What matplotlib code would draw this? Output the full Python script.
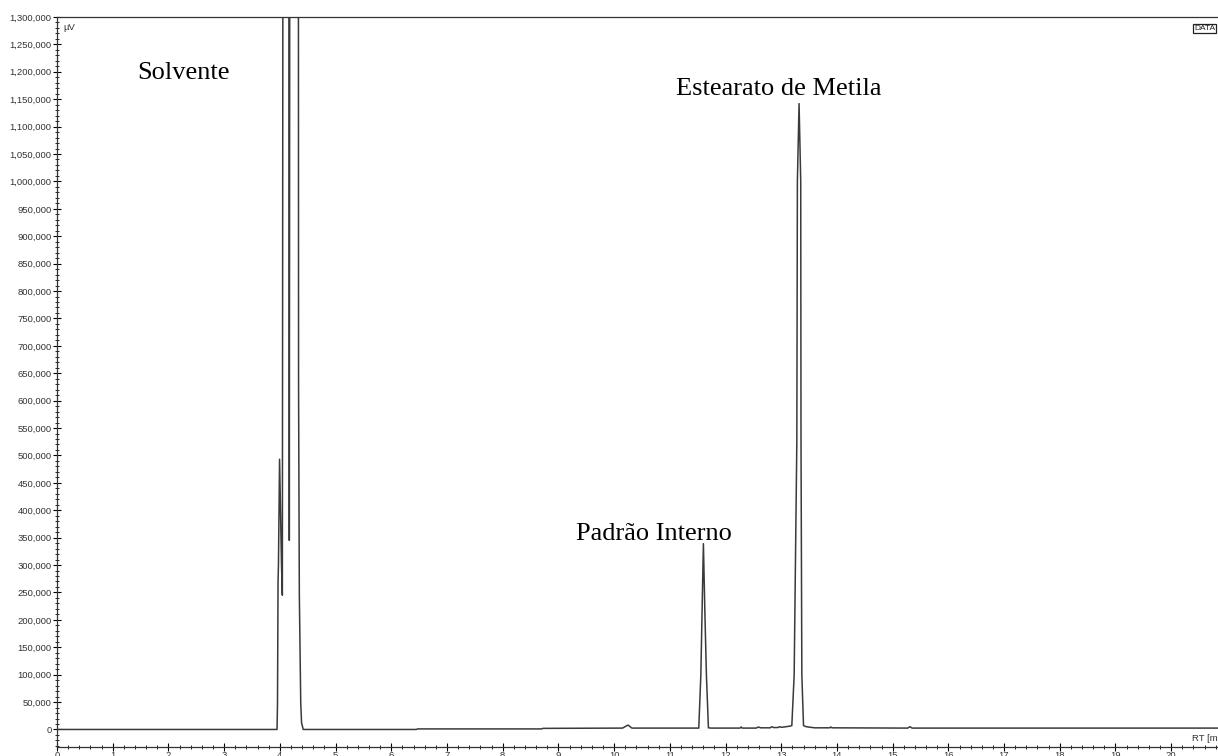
import matplotlib
matplotlib.use("Agg")
import matplotlib.pyplot as plt
from matplotlib.ticker import MultipleLocator, FuncFormatter

# cromatograma - vertices lidos do registro (RT em min, sinal em uV)
# valores acima de 1.300.000 ficam fora da escala (pico do solvente saturado)
rt_min = [
    0.00, 3.950, 3.958, 3.968, 3.975, 3.995, 4.030, 4.045, 4.065, 4.110, 4.155,
    4.170, 4.185, 4.260, 4.330, 4.336, 4.350, 4.375, 4.390, 4.420,
    6.45, 6.47, 8.70, 8.72, 10.15, 10.25, 10.32,
    11.52, 11.557, 11.580, 11.603, 11.628, 11.657, 11.693,
    11.75, 12.26, 12.28, 12.30, 12.55, 12.59, 12.63, 12.80, 12.83, 12.86,
    12.94, 12.97, 13.00, 13.05, 13.15,
    13.19, 13.232, 13.280, 13.290, 13.320, 13.350, 13.355, 13.370, 13.400,
    13.45, 13.60, 13.87, 13.89, 13.91, 15.27, 15.31, 15.35, 20.90,
]
sinal_uv = [
    0, 0, 49000, 270000, 300000, 493000, 300000, 245000, 2600000, 3100000, 2600000,
    345000, 2400000, 3300000, 2500000, 630000, 245000, 49000, 12000, 0,
    0, 1000, 1000, 2000, 2500, 8000, 2500,
    2500, 99000, 220000, 339000, 220000, 99000, 3000,
    2500, 2500, 4500, 2500, 2500, 4500, 3000, 3000, 5000, 3500,
    3500, 5000, 4000, 4500, 6000,
    7000, 99000, 525000, 1000000, 1142000, 1000000, 525000, 99000, 7000,
    5000, 3000, 3000, 4500, 3000, 2500, 5000, 2500, 2500,
]

# rotulos dos picos: (texto, RT, altura da linha de base do texto)
rotulos = ["Solvente", "Padrão Interno", "Estearato de Metila"]
rotulos_rt = [2.27, 10.71, 12.96]
rotulos_y = [1187000, 345000, 1158000]

y_max = 1300000
y_min = -32000
x_max = 20.84

fig = plt.figure(figsize=(12.18, 7.56), dpi=100)
ax = fig.add_axes([57 / 1218, 9 / 756, 1161 / 1218, 730 / 756])

ax.plot(rt_min, sinal_uv, color="#3a3a3a", lw=1.1)

ax.set_xlim(0, x_max)
ax.set_ylim(y_min, y_max)

ax.xaxis.set_major_locator(MultipleLocator(1))
ax.xaxis.set_minor_locator(MultipleLocator(0.2))
ax.yaxis.set_major_locator(MultipleLocator(50000))
ax.yaxis.set_minor_locator(MultipleLocator(10000))
ax.yaxis.set_major_formatter(FuncFormatter(lambda v, p: f"{v:,.0f}" if v >= 0 else ""))

fonte = "Liberation Sans"
ax.tick_params(axis="both", which="major", direction="inout", length=6, width=0.8,
               labelsize=6.8, labelcolor="#333333", pad=1)
ax.tick_params(axis="x", which="major", pad=0)
ax.tick_params(axis="both", which="minor", direction="inout", length=3, width=0.6)
for lab in ax.get_xticklabels() + ax.get_yticklabels():
    lab.set_family(fonte)

ax.spines["right"].set_visible(False)
for s in ["left", "top", "bottom"]:
    ax.spines[s].set_linewidth(0.9)
    ax.spines[s].set_color("#333333")

# textos fixos do software (coordenadas em pixels, origem embaixo)
ax.text(63, 756 - 23, "µV", transform=None, fontsize=6.8, family=fonte, color="#333333",
        va="top", ha="left")
ax.text(1192, 756 - 741, "RT [min]", transform=None, fontsize=6.8, family=fonte,
        color="#333333", va="baseline", ha="left")
ax.text(1194, 756 - 30, "DATA", transform=None, fontsize=6, family=fonte,
        color="#222222", va="baseline", ha="left",
        bbox=dict(boxstyle="square,pad=0.1", fc="white", ec="#222222", lw=0.9))

for txt, xr, yr in zip(rotulos, rotulos_rt, rotulos_y):
    ax.text(xr, yr, txt, fontsize=19, family="Liberation Serif", ha="center",
            va="baseline", color="black")

fig.savefig("out.png", dpi=100)
